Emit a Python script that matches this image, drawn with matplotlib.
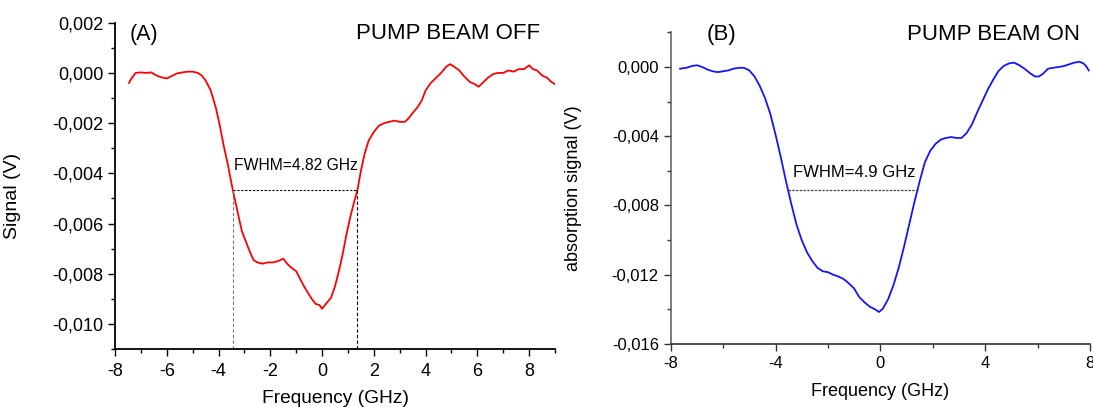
import matplotlib
matplotlib.use("Agg")
import matplotlib.pyplot as plt
from matplotlib.ticker import MultipleLocator, FuncFormatter

plt.rcParams['font.family'] = ['Liberation Sans', 'DejaVu Sans']
plt.rcParams['axes.unicode_minus'] = False

# panel A: pump beam off  (frequency GHz, signal mV)
freq_off = [-7.46, -7.35, -7.2, -7.0, -6.8, -6.6, -6.4, -6.2, -6.0, -5.8, -5.6, -5.4,
            -5.2, -5.0, -4.8, -4.65, -4.5, -4.3, -4.1, -3.95, -3.8, -3.65, -3.5, -3.4,
            -3.25, -3.1, -2.95, -2.8, -2.65, -2.5, -2.3, -2.1, -1.9, -1.7, -1.5, -1.35,
            -1.2, -1.0, -0.85, -0.7, -0.55, -0.4, -0.25, -0.1, 0.0, 0.15, 0.35, 0.5,
            0.65, 0.8, 0.95, 1.1, 1.25, 1.37, 1.5, 1.65, 1.8, 2.0, 2.2, 2.4, 2.6, 2.8,
            3.0, 3.2, 3.35, 3.5, 3.7, 3.85, 4.0, 4.2, 4.4, 4.6, 4.8, 4.95, 5.1, 5.3,
            5.5, 5.7, 5.9, 6.05, 6.2, 6.4, 6.6, 6.8, 7.0, 7.2, 7.4, 7.6, 7.8, 8.0,
            8.15, 8.3, 8.5, 8.7, 8.85, 9.0]
sig_off = [-0.40, -0.20, 0.00, 0.02, 0.00, 0.02, -0.10, -0.18, -0.22, -0.12, -0.02, 0.02,
           0.05, 0.05, 0.00, -0.10, -0.30, -0.70, -1.40, -2.10, -2.90, -3.60, -4.40, -4.90,
           -5.60, -6.30, -6.70, -7.10, -7.45, -7.55, -7.60, -7.55, -7.55, -7.50, -7.40, -7.60,
           -7.75, -7.90, -8.20, -8.50, -8.75, -9.00, -9.20, -9.25, -9.40, -9.20, -8.95, -8.50,
           -7.90, -7.20, -6.40, -5.70, -5.10, -4.65, -3.90, -3.20, -2.70, -2.35, -2.10, -2.00, -1.95, -1.90,
           -1.95, -1.95, -1.80, -1.60, -1.35, -1.10, -0.70, -0.40, -0.20, 0.00, 0.25, 0.35, 0.25, 0.10,
           -0.15, -0.35, -0.45, -0.55, -0.40, -0.20, -0.05, 0.00, 0.00, 0.10, 0.05, 0.15, 0.15, 0.30,
           0.15, 0.10, -0.10, -0.20, -0.35, -0.45]

# panel B: pump beam on
freq_on = [-7.64, -7.4, -7.2, -7.0, -6.8, -6.6, -6.4, -6.2, -6.0, -5.8, -5.6, -5.4, -5.2,
           -5.0, -4.8, -4.6, -4.4, -4.2, -4.0, -3.8, -3.6, -3.4, -3.2, -3.0, -2.8, -2.6,
           -2.4, -2.2, -2.0, -1.8, -1.6, -1.4, -1.2, -1.0, -0.8, -0.6, -0.4, -0.2, -0.05,
           0.1, 0.3, 0.5, 0.7, 0.9, 1.1, 1.3, 1.5, 1.7, 1.9, 2.1, 2.3, 2.5, 2.7, 2.9, 3.1,
           3.3, 3.5, 3.7, 3.9, 4.1, 4.3, 4.5, 4.7, 4.9, 5.1, 5.3, 5.5, 5.7, 5.9, 6.05, 6.2,
           6.4, 6.6, 6.8, 7.0, 7.2, 7.4, 7.6, 7.75, 7.85, 7.95]
sig_on = [-0.10, -0.05, 0.05, 0.10, 0.00, -0.15, -0.25, -0.30, -0.25, -0.20, -0.10, -0.05, -0.05,
          -0.20, -0.55, -1.10, -1.80, -2.70, -3.90, -5.20, -6.60, -7.90, -9.10, -10.0, -10.7, -11.2,
          -11.6, -11.8, -11.85, -12.0, -12.1, -12.25, -12.5, -12.8, -13.3, -13.6, -13.85, -14.0, -14.15,
          -13.95, -13.4, -12.6, -11.6, -10.4, -9.1, -7.8, -6.6, -5.5, -4.85, -4.45, -4.2, -4.1, -4.05, -4.1, -4.1,
          -3.8, -3.3, -2.6, -1.95, -1.30, -0.75, -0.25, 0.05, 0.20, 0.25, 0.10, -0.10, -0.35, -0.55, -0.55, -0.40,
          -0.10, -0.05, 0.00, 0.05, 0.15, 0.25, 0.30, 0.20, 0.05, -0.20]

# FWHM markers (GHz, mV)
fwhm_off_x = [-3.44, 1.365]
fwhm_off_y = -4.66
fwhm_on_x = [-3.51, 1.47]
fwhm_on_y = -7.1

fmt = FuncFormatter(lambda v, p: ('%.3f' % v).replace('.', ',').replace('-0,000', '0,000'))

fig = plt.figure(figsize=(10.93, 4.07), dpi=100)
axA = fig.add_axes([0.1052, 0.1425, 0.4026, 0.8017])
axB = fig.add_axes([0.6136, 0.1548, 0.3837, 0.7658])

# ---- A ----
axA.plot(freq_off, [v * 1e-3 for v in sig_off], color='#ff0000', lw=1.3)
axA.plot([fwhm_off_x[0], fwhm_off_x[1]], [fwhm_off_y * 1e-3] * 2, color='black', lw=0.8, ls=(0, (2, 1.5)))
axA.plot([fwhm_off_x[0]] * 2, [fwhm_off_y * 1e-3, -0.011], color='#777777', lw=0.8, ls=(0, (3, 2)))
axA.plot([fwhm_off_x[1]] * 2, [fwhm_off_y * 1e-3, -0.011], color='black', lw=0.8, ls=(0, (3, 2)))
axA.text(-3.42, -0.0037, 'FWHM=4.82 GHz', fontsize=11.3, va='center', ha='left')
axA.text(-7.42, 0.00155, '(A)', fontsize=15.5, va='center', ha='left')
axA.text(8.42, 0.00158, 'PUMP BEAM OFF', fontsize=16, va='center', ha='right')
axA.set_xlim(-8, 9)
axA.set_ylim(-0.011, 0.002)
axA.xaxis.set_major_locator(MultipleLocator(2))
axA.xaxis.set_minor_locator(MultipleLocator(1))
axA.yaxis.set_major_locator(MultipleLocator(0.002))
axA.yaxis.set_minor_locator(MultipleLocator(0.001))
axA.yaxis.set_major_formatter(fmt)
axA.set_xlabel('Frequency (GHz)', fontsize=13.8)
axA.set_ylabel('Signal (V)', fontsize=14)
axA.yaxis.set_label_coords(-0.2125, 0.47)
axA.xaxis.set_label_coords(0.5, -0.125)
axA.tick_params(labelsize=13, length=5, width=1, pad=3)
axA.tick_params(axis='x', pad=5)
axA.tick_params(which='minor', length=3, width=1)
for s in ['top', 'right']:
    axA.spines[s].set_visible(False)
for s in ['left', 'bottom']:
    axA.spines[s].set_linewidth(1.3)

# ---- B ----
axB.plot(freq_on, [v * 1e-3 for v in sig_on], color='#1414ff', lw=1.3)
axB.plot(fwhm_on_x, [fwhm_on_y * 1e-3] * 2, color='#444444', lw=0.9, ls=(0, (2, 1)))
axB.text(-3.32, -0.0061, 'FWHM=4.9 GHz', fontsize=12, va='center', ha='left')
axB.text(-6.63, 0.00188, '(B)', fontsize=16, va='center', ha='left')
axB.text(7.6, 0.00188, 'PUMP BEAM ON', fontsize=16, va='center', ha='right')
axB.set_xlim(-8, 8)
axB.set_ylim(-0.016, 0.002)
axB.xaxis.set_major_locator(MultipleLocator(4))
axB.xaxis.set_minor_locator(MultipleLocator(2))
axB.yaxis.set_major_locator(MultipleLocator(0.004))
axB.yaxis.set_minor_locator(MultipleLocator(0.002))
axB.yaxis.set_major_formatter(fmt)
axB.set_xlabel('Frequency (GHz)', fontsize=13)
axB.set_ylabel('absorption signal (V)', fontsize=13)
axB.yaxis.set_label_coords(-0.2115, 0.5)
axB.xaxis.set_label_coords(0.5, -0.125)
axB.tick_params(labelsize=12, length=5, width=1, pad=3.5, color='#333333')
axB.tick_params(axis='x', pad=4)
axB.tick_params(which='minor', length=3, width=1, color='#333333')
for s in ['top', 'right']:
    axB.spines[s].set_visible(False)
axB.spines['left'].set_color('#666666')
axB.spines['bottom'].set_color('#333333')
for s in ['left', 'bottom']:
    axB.spines[s].set_linewidth(1.2)

fig.savefig('out.png', dpi=100)
